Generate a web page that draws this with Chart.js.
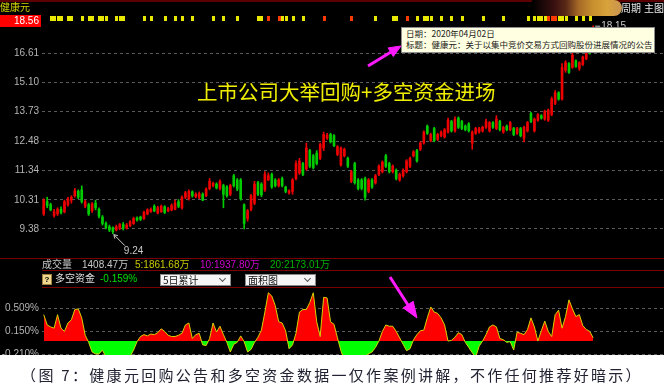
<!DOCTYPE html>
<html>
<head>
<meta charset="utf-8">
<script src="https://cdn.jsdelivr.net/npm/chart.js@4.4.1/dist/chart.umd.min.js"></script>
<style>
body{margin:0;background:#fff;width:664px;height:390px;overflow:hidden;font-family:"Noto Sans CJK SC",sans-serif;}
#panel{position:absolute;left:0;top:0;width:664px;height:355px;background:#000;overflow:hidden;}
canvas{position:absolute;left:0;}
.t{position:absolute;white-space:nowrap;font-size:10px;line-height:12px;font-family:"Liberation Sans","Noto Sans CJK SC",sans-serif;}
.hl{position:absolute;height:1px;background:#7a0000;right:0;}
.dd{position:absolute;top:274px;width:69px;height:10px;background:#f6f6f6;border:1px solid #8a8a8a;}
.dd span{position:absolute;left:2px;top:-1px;font-size:10px;line-height:12px;color:#111;}
.dd i{position:absolute;right:5px;top:1px;width:4px;height:4px;border-right:1px solid #555;border-bottom:1px solid #555;transform:rotate(45deg);}
</style>
</head>
<body>
<div id="panel">
  <canvas id="price" width="664" height="258" style="top:0"></canvas>
  <canvas id="flow" width="664" height="83" style="top:287px"></canvas>

  <div class="hl" style="left:0;top:0;height:2px;background:#5c0000"></div>
  <div class="t" style="left:0;top:2px;color:#d2d200">健康元</div>
  <div style="position:absolute;left:0;top:15px;width:41px;height:12px;background:#ff0000"></div>
  <div class="t" style="left:0;top:15px;width:39px;text-align:right;color:#fff">18.56</div>
  <div style="position:absolute;left:532px;top:0;width:90px;height:16px;border-radius:0 8px 8px 0;background:linear-gradient(to right,#000 0%,#3a1010 25%,#5a2a18 38%,#a86a28 52%,#c8902e 68%,#d8a23c 84%,#c89452 100%)"></div>
  <div class="t" style="left:621px;top:3px;color:#e6e6e6">周期</div>
  <div class="t" style="left:644px;top:3px;color:#e6e6e6">主图</div>

  <div style="position:absolute;left:197px;top:81px;font-size:20.5px;line-height:21px;color:#f0ee00;white-space:nowrap">上市公司大举回购+多空资金进场</div>

  <div style="position:absolute;left:401px;top:27px;width:252px;height:24px;background:#ffffe1;border:1px solid #8c8c8c"></div>
  <div style="position:absolute;left:406px;top:28px;font-size:8.5px;line-height:11px;color:#222;white-space:nowrap">日期：2020年04月02日<br>标题：健康元：关于以集中竞价交易方式回购股份进展情况的公告</div>

  <div class="hl" style="left:0;top:258px"></div>
  <div class="hl" style="left:42px;top:270px"></div>
  <div class="hl" style="left:42px;top:287px"></div>

  <div class="t" style="left:42px;top:259px;color:#c8c8c8">成交量</div>
  <div class="t" style="left:82px;top:259px;color:#c8c8c8">1408.47万</div>
  <div class="t" style="left:135px;top:259px;color:#c8c800">5:1861.68万</div>
  <div class="t" style="left:200px;top:259px;color:#d000d0">10:1937.80万</div>
  <div class="t" style="left:270px;top:259px;color:#00b000">20:2173.01万</div>

  <div style="position:absolute;left:42px;top:274px;width:8px;height:9px;background:#f0d890;border:1px solid #a08040;font:bold 8px/9px 'Liberation Sans';color:#000;text-align:center">?</div>
  <div class="t" style="left:55px;top:273px;color:#e0e0e0">多空资金</div>
  <div class="t" style="left:100px;top:273px;color:#00e000">-0.159%</div>
  <div class="dd" style="left:160px"><span>5日累计</span><i></i></div>
  <div class="dd" style="left:245px"><span>面积图</span><i></i></div>

  <svg width="664" height="355" style="position:absolute;left:0;top:0">
    <g fill="#ff1aff" stroke="#ff1aff">
      <line x1="368" y1="66" x2="391" y2="52" stroke-width="3"/>
      <polygon points="401,46 393.3,56.5 388.1,47.9" stroke-width="1"/>
      <line x1="390" y1="277" x2="408" y2="305" stroke-width="3"/>
      <polygon points="417,318 413.2,301.3 403.2,307.9" stroke-width="1"/>
    </g>
  </svg>
</div>
<div style="position:absolute;left:0;top:364px;width:664px;text-align:center;font-size:15px;line-height:22px;letter-spacing:2.3px;color:#222233;white-space:nowrap">（图 7：健康元回购公告和多空资金数据一仅作案例讲解，不作任何推荐好暗示）</div>

<script>
// daily candles (price)
const opens = [
9.85,10.25,10.15,9.80,9.85,10.00,9.92,10.15,10.30,10.45,
10.60,10.65,10.10,10.15,9.95,10.20,10.00,9.75,9.55,9.45,
9.42,9.35,9.40,9.52,9.40,9.48,9.55,9.72,9.75,9.70,
9.85,9.92,10.10,9.88,9.92,10.08,9.95,9.98,10.00,10.25,
10.05,10.40,10.35,10.58,10.42,10.40,10.50,10.45,10.70,10.80,
10.85,10.70,10.80,10.75,10.50,11.15,11.00,11.00,10.15,9.70,
10.00,10.20,10.90,10.85,10.65,11.00,11.20,11.00,10.80,11.05,
10.75,10.55,10.60,11.05,11.25,11.60,11.40,12.10,11.90,12.00,
11.80,12.20,12.60,12.75,12.70,11.95,11.55,11.90,11.80,10.95,
11.60,11.00,11.00,11.05,10.60,11.00,10.90,11.20,11.30,11.90,
11.60,11.30,11.35,11.00,11.15,11.30,11.50,11.90,12.10,12.15,
12.40,13.10,12.50,13.00,12.55,12.70,12.65,12.85,13.30,12.90,
13.45,13.30,13.10,13.20,12.40,12.80,12.85,12.90,13.05,12.90,
13.25,13.00,13.30,12.85,13.10,12.95,13.00,12.80,13.00,12.60,
12.90,13.65,12.90,13.35,13.55,13.40,13.35,13.60,14.10,14.60,
14.30,15.70,16.05,15.85,16.20,15.80,16.00,16.30,16.75,16.70
];
const closes = [
10.30,10.12,9.98,9.92,10.00,9.90,10.25,10.35,10.40,10.62,
10.40,10.25,10.25,9.85,10.18,10.05,9.78,9.55,9.42,9.35,
9.30,9.45,9.52,9.40,9.50,9.60,9.70,9.66,9.68,9.90,
9.98,10.00,9.95,10.05,10.10,9.90,10.02,10.12,10.20,10.10,
10.40,10.55,10.60,10.45,10.50,10.52,10.30,10.68,10.95,10.88,
10.72,10.95,10.50,10.45,10.80,10.80,10.68,10.35,9.55,9.95,
10.45,10.85,10.50,10.48,11.20,11.15,10.75,10.80,11.00,10.80,
10.60,10.62,11.00,11.60,11.70,11.20,12.20,11.50,11.45,11.60,
12.35,12.75,12.72,12.45,12.30,12.25,12.20,12.15,11.50,11.30,
10.90,10.70,10.70,10.40,11.00,10.75,11.15,11.50,11.65,11.50,
11.30,11.50,11.05,11.20,11.35,11.70,11.80,12.05,11.70,12.40,
12.85,12.80,12.75,12.50,12.75,12.85,12.95,13.35,12.90,13.40,
13.05,13.00,12.95,12.90,12.85,13.00,13.00,13.05,13.30,13.25,
13.05,13.40,12.95,13.05,12.95,13.25,12.75,13.00,12.70,13.05,
13.25,13.30,13.40,13.60,13.45,13.75,13.80,14.30,14.60,14.30,
15.85,16.10,15.60,16.50,15.90,16.10,16.40,16.75,16.60,17.40
];
const highs = [
10.35,10.40,10.20,10.00,10.05,10.08,10.30,10.40,10.45,10.70,
10.65,10.79,10.30,10.20,10.22,10.30,10.05,9.80,9.60,9.50,
9.45,9.50,9.55,9.58,9.55,9.64,9.75,9.76,9.78,9.94,
10.02,10.05,10.15,10.10,10.14,10.12,10.06,10.18,10.30,10.32,
10.45,10.60,10.65,10.62,10.55,10.58,10.55,10.72,11.05,10.92,
10.90,11.00,10.85,10.80,10.85,11.20,11.05,11.05,10.18,10.00,
10.50,10.95,10.95,10.90,11.30,11.25,11.25,11.05,11.05,11.10,
10.78,10.65,11.05,11.70,11.80,11.65,12.40,12.15,11.95,12.10,
12.40,12.85,12.80,12.80,12.75,12.30,12.25,12.20,11.85,11.35,
11.65,11.05,11.05,11.10,11.05,11.05,11.20,11.55,11.70,11.95,
11.65,11.55,11.40,11.25,11.40,11.75,11.85,12.10,12.15,12.45,
12.90,13.15,12.80,13.05,12.80,12.90,13.00,13.45,13.35,13.50,
13.50,13.35,13.15,13.25,12.90,13.05,13.05,13.10,13.40,13.30,
13.30,13.55,13.35,13.10,13.15,13.30,13.05,13.05,13.05,13.10,
13.30,13.70,13.45,13.65,13.60,13.80,13.85,14.40,14.70,14.65,
16.05,16.20,16.10,16.65,16.25,16.15,16.45,16.85,16.80,18.15
];
const lows = [
9.80,10.05,9.95,9.75,9.80,9.85,9.88,10.10,10.20,10.40,
10.35,10.20,10.05,9.80,9.90,9.98,9.72,9.50,9.38,9.30,
9.24,9.32,9.36,9.35,9.38,9.45,9.52,9.62,9.64,9.68,
9.82,9.90,9.92,9.85,9.90,9.86,9.92,9.95,9.98,10.05,
10.00,10.35,10.30,10.40,10.38,10.35,10.28,10.42,10.65,10.75,
10.68,10.65,10.05,10.40,10.45,10.75,10.62,10.30,9.38,9.62,
9.95,10.15,10.45,10.42,10.60,10.98,10.70,10.75,10.75,10.75,
10.55,10.50,10.50,11.00,11.20,11.15,11.35,11.45,11.40,11.55,
11.75,12.10,12.55,12.40,12.25,11.90,11.50,11.85,11.45,10.90,
10.85,10.65,10.65,10.30,10.55,10.70,10.85,11.15,11.25,11.45,
11.25,11.25,11.00,10.95,11.10,11.25,11.45,11.85,11.65,12.10,
12.35,12.75,12.45,12.45,12.50,12.65,12.60,12.80,12.85,12.85,
13.00,12.95,12.90,12.85,12.15,12.75,12.80,12.85,13.00,12.85,
13.00,12.95,12.90,12.80,12.90,12.90,12.70,12.75,12.65,12.45,
12.85,13.25,12.85,13.30,13.40,13.35,13.30,13.55,14.05,14.25,
14.25,15.60,15.55,15.80,15.85,15.70,15.95,16.25,16.55,16.65
];
// 多空资金 5日累计 (%)
const flow = [
0.41,0.25,0.22,0.20,0.41,0.20,0.15,0.28,0.33,0.49,
0.50,0.36,0.09,-0.02,-0.17,-0.20,-0.20,-0.14,-0.25,-0.32,
-0.38,-0.40,-0.36,-0.30,-0.28,-0.24,-0.14,-0.01,0.07,0.10,
0.08,0.11,0.10,0.13,0.19,0.15,0.09,0.07,0.07,0.09,
0.12,0.25,0.28,0.04,0.10,0.12,-0.06,-0.07,0.04,0.28,
0.14,0.23,0.10,-0.02,-0.17,-0.05,-0.02,0.08,-0.01,-0.17,
-0.13,-0.02,0.06,0.17,0.45,0.75,0.70,0.55,0.30,0.28,
0.16,-0.12,-0.06,0.12,0.45,0.49,0.49,0.60,0.75,0.30,
0.07,0.68,0.67,0.30,0.26,0.05,-0.15,-0.30,-0.35,-0.38,
-0.36,-0.32,-0.28,-0.24,-0.20,-0.17,-0.10,0.00,0.15,0.25,
0.23,0.23,0.15,0.05,-0.05,-0.15,-0.12,0.02,0.10,0.16,
0.17,0.36,0.53,0.45,0.43,0.36,0.25,0.00,0.01,0.06,
0.13,0.10,-0.02,-0.10,-0.18,-0.25,-0.08,0.00,0.10,0.22,
0.25,0.22,0.04,0.02,-0.02,-0.01,-0.14,0.14,0.12,0.10,
0.18,0.36,0.22,0.00,0.16,0.31,0.15,0.07,0.41,0.48,
0.20,0.38,0.64,0.50,0.38,0.41,0.24,0.18,0.15,0.05
];
const priceTicks = [9.38, 10.31, 11.34, 12.48, 13.73, 15.10, 16.61];
const flowTicks = [-0.210, 0.150, 0.509];
const newsYellow = [2,3,4,5,7,8,11,13,14,16,17,18,21,22,23,29,31,35,38,40,43,49,52,56,62,63,69,70,72,75,96,101,102,108,110,111,112,115,118,121,127,133,140,142,143,144,145,149,150,151,154,156,158];
const newsRed = [65,68,81,89,105,146,147,148];

const slots = Array.from({length: 180}, (_, i) => i); // empty days on the right
const UP = '#ee0000', DOWN = '#00cc00';
const colors = opens.map((o, i) => closes[i] >= o ? UP : DOWN);
const tickFont = {family: 'Liberation Sans', size: 10};

function fixAxis(s) { s.width = 42; s.paddingTop = 0; s.paddingBottom = 0; }

const marks = {
  id: 'marks',
  afterDatasetsDraw(chart) {
    const ctx = chart.ctx, xs = chart.scales.x, ys = chart.scales.y;
    ctx.save();
    ctx.fillStyle = '#e8e800';
    newsYellow.forEach(i => ctx.fillRect(Math.round(xs.getPixelForValue(i)) - 1, 16, 3, 5));
    ctx.fillStyle = '#ff3a00';
    newsRed.forEach(i => ctx.fillRect(Math.round(xs.getPixelForValue(i)) - 1, 16, 3, 5));

    // lowest low
    const lo = Math.min(...lows), li = lows.indexOf(lo);
    let x = xs.getPixelForValue(li), y = ys.getPixelForValue(lo);
    ctx.strokeStyle = '#c8c8c8'; ctx.fillStyle = '#c8c8c8'; ctx.lineWidth = 1;
    ctx.beginPath();
    ctx.moveTo(x + 1, y + 1); ctx.lineTo(x + 12, y + 12);
    ctx.moveTo(x + 1, y + 1); ctx.lineTo(x + 5, y + 2);
    ctx.moveTo(x + 1, y + 1); ctx.lineTo(x + 2, y + 5);
    ctx.stroke();
    ctx.font = '10px Liberation Sans';
    ctx.textBaseline = 'top';
    ctx.fillText(lo.toFixed(2), x + 11, y + 13);

    // highest high
    const hi = Math.max(...highs), hiI = highs.indexOf(hi);
    x = xs.getPixelForValue(hiI); y = ys.getPixelForValue(hi);
    ctx.beginPath(); ctx.moveTo(x + 2, y + 0.5); ctx.lineTo(x + 7, y + 0.5); ctx.stroke();
    ctx.textBaseline = 'middle';
    ctx.fillText(hi.toFixed(2), x + 8, y + 1);
    ctx.restore();
  }
};

new Chart(document.getElementById('price'), {
  type: 'bar',
  data: {
    labels: slots,
    datasets: [
      {data: lows.map((l, i) => [l, highs[i]]), backgroundColor: colors, barThickness: 1, grouped: false, order: 2},
      {data: opens.map((o, i) => [o, closes[i]]), backgroundColor: colors, barThickness: 2, grouped: false, order: 1}
    ]
  },
  options: {
    responsive: false, animation: false,
    layout: {padding: {top: 22, left: 0, right: 0, bottom: 0}},
    plugins: {legend: {display: false}, tooltip: {enabled: false}},
    scales: {
      x: {display: false, offset: true},
      y: {
        type: 'logarithmic', min: 8.537, max: 18.37, bounds: 'data',
        afterBuildTicks: s => { s.ticks = priceTicks.map(v => ({value: v})); },
        afterFit: fixAxis,
        ticks: {color: '#b4b4b4', font: tickFont, padding: 3, callback: v => Number(v).toFixed(2)},
        grid: {color: '#5a5a5a', drawTicks: false},
        border: {display: false, dash: [3, 3]}
      }
    }
  },
  plugins: [marks]
});

new Chart(document.getElementById('flow'), {
  type: 'line',
  data: {
    labels: slots,
    datasets: [{
      data: flow, borderColor: '#d8d000', borderWidth: 1, pointRadius: 0, tension: 0,
      fill: {target: 'origin', above: '#ff0000', below: '#00ff00'}
    }]
  },
  options: {
    responsive: false, animation: false,
    layout: {padding: 0},
    plugins: {legend: {display: false}, tooltip: {enabled: false}},
    scales: {
      x: {display: false, offset: true},
      y: {
        min: -0.45, max: 0.84,
        afterBuildTicks: s => { s.ticks = flowTicks.map(v => ({value: v})); },
        afterFit: fixAxis,
        ticks: {color: '#b4b4b4', font: tickFont, padding: 3, callback: v => v.toFixed(3) + '%'},
        grid: {color: '#5a5a5a', drawTicks: false},
        border: {display: false, dash: [3, 3]}
      }
    }
  }
});
</script>
</body>
</html>
